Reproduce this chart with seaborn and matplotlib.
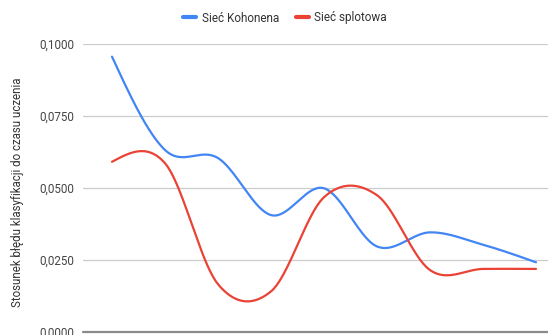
import numpy as np
import pandas as pd
import seaborn as sns
import matplotlib.pyplot as plt
from matplotlib.lines import Line2D

# Measurement points (category index) and the two series
punkty = list(range(9))
siec_kohonena = [0.0956, 0.0632, 0.0604, 0.0406, 0.0499, 0.0297, 0.0346, 0.0303, 0.0242]
siec_splotowa = [0.0591, 0.0586, 0.0166, 0.0141, 0.0468, 0.0475, 0.0215, 0.0219, 0.0219]
nazwy_serii = ["Sieć Kohonena", "Sieć splotowa"]
kolory = ["#4285F4", "#EA4335"]
y_ticks = [0.0, 0.025, 0.05, 0.075, 0.1]
y_tick_labels = ["0,0000", "0,0250", "0,0500", "0,0750", "0,1000"]
y_label = "Stosunek błędu klasyfikacji do czasu uczenia"

sns.set_theme(style="white")
plt.rcParams["font.family"] = ["Roboto", "DejaVu Sans"]

W, H = 548, 335
fig = plt.figure(figsize=(W / 100, H / 100), dpi=100)
ax = fig.add_axes([83 / W, 3 / H, (W - 83) / W, (332 - 44) / H])
ax.set_xlim(-0.547, 8.226)
ax.set_ylim(0, 0.1)


def smooth_curve(xs, ys, n=40):
    """Catmull-Rom spline through every point, with natural end tangents."""
    x = np.asarray(xs, float)
    y = np.asarray(ys, float)
    m = len(x)
    tang = np.empty(m)
    tang[1:-1] = (y[2:] - y[:-2]) / 2
    tang[0] = 1.5 * (y[1] - y[0]) - 0.5 * tang[1]
    tang[-1] = 1.5 * (y[-1] - y[-2]) - 0.5 * tang[-2]
    s = np.linspace(0, 1, n)
    h00 = 2 * s**3 - 3 * s**2 + 1
    h10 = s**3 - 2 * s**2 + s
    h01 = -2 * s**3 + 3 * s**2
    h11 = s**3 - s**2
    cx, cy = [], []
    for i in range(m - 1):
        seg_y = h00 * y[i] + h10 * tang[i] + h01 * y[i + 1] + h11 * tang[i + 1]
        seg_x = x[i] + s * (x[i + 1] - x[i])
        if i:
            seg_x, seg_y = seg_x[1:], seg_y[1:]
        cx.append(seg_x)
        cy.append(seg_y)
    return np.concatenate(cx), np.concatenate(cy)


frames = []
for name, vals in zip(nazwy_serii, [siec_kohonena, siec_splotowa]):
    cx, cy = smooth_curve(punkty, vals)
    frames.append(pd.DataFrame({"x": cx, "y": cy, "seria": name}))
df = pd.concat(frames, ignore_index=True)

# gridlines
for yv in y_ticks[1:]:
    ax.axhline(yv, color="#cccccc", lw=0.9, zorder=0)
ax.axhline(0, color="#8a8a8a", lw=1.6, zorder=1, clip_on=False)

sns.lineplot(data=df, x="x", y="y", hue="seria", palette=kolory, sort=False,
             estimator=None, lw=1.6, legend=False, ax=ax, zorder=3)

for sp in ax.spines.values():
    sp.set_visible(False)
ax.set_xticks([])
ax.set_yticks(y_ticks)
ax.set_yticklabels(y_tick_labels)
ax.tick_params(axis="y", length=0, pad=6, labelsize=8.4, labelcolor="#444444")
ax.set_xlabel("")
ax.set_ylabel("")
fig.text(17.5 / W, 1 - 192 / H, y_label, rotation=90, ha="center", va="center",
         fontsize=8.3, color="#333333")

handles = [Line2D([], [], color=k, lw=3, solid_capstyle="round") for k in kolory]
fig.legend(handles, nazwy_serii, loc="center", bbox_to_anchor=(285 / W, 1 - 18 / H),
           ncol=2, frameon=False, fontsize=8.5, handlelength=1.1, handletextpad=0.5,
           columnspacing=1.4, labelcolor="#333333")

fig.savefig("out.png", dpi=100)
